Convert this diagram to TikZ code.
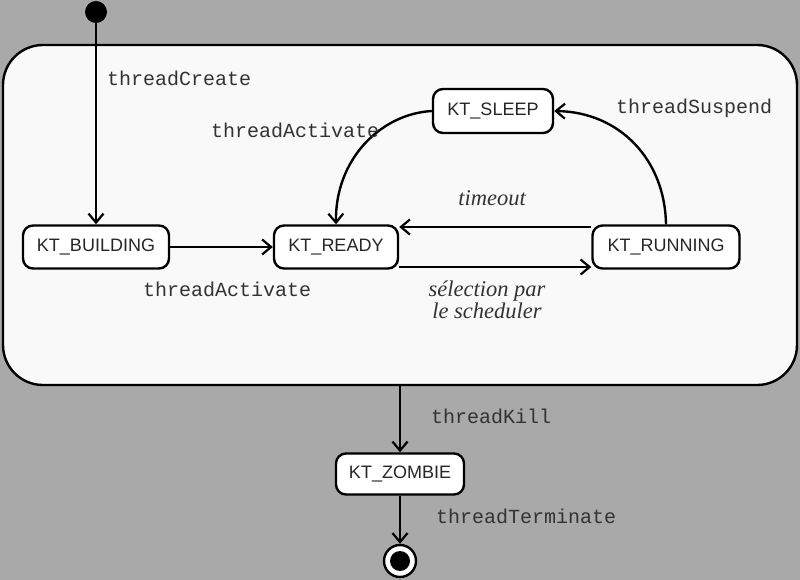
\documentclass[tikz,border=0pt]{standalone}
\usepackage{fontspec}
\setmainfont{Liberation Serif}
\setsansfont{Liberation Sans}
\setmonofont{Liberation Mono}
\usetikzlibrary{arrows.meta}
\definecolor{bggray}{HTML}{A9A9A9}
\definecolor{boxfill}{HTML}{F9F9F9}
\tikzset{
  stbox/.style={draw=black, line width=2.4pt, rounded corners=10pt, fill=white,
    font=\sffamily\fontsize{18}{20}\selectfont, text=black!85, inner sep=0pt},
  trans/.style={draw=black, line width=2.4pt, -{Straight Barb[length=9pt,width=15pt,line width=2.2pt]}},
  evt/.style={font=\ttfamily\fontsize{20}{22}\selectfont, text=black!80, inner sep=0pt, anchor=west},
  grd/.style={font=\itshape\fontsize{22.5}{22}\selectfont, text=black!80, inner sep=0pt, align=center},
}
\begin{document}
\begin{tikzpicture}[x=1pt,y=-1pt]
\useasboundingbox (0,0) rectangle (800,580);
\fill[bggray] (0,0) rectangle (800,580);
% container
\draw[line width=2.4pt, fill=boxfill, rounded corners=40pt] (3,45) rectangle (797,385);
% states
\node[stbox, minimum width=146pt, minimum height=43pt] (build) at (96,247) {KT\_BUILDING};
\node[stbox, minimum width=124pt, minimum height=43pt] (ready) at (336,247) {KT\_READY};
\node[stbox, minimum width=120pt, minimum height=44pt] (sleep) at (493,111) {KT\_SLEEP};
\node[stbox, minimum width=147pt, minimum height=43pt] (run) at (666,247) {KT\_RUNNING};
\node[stbox, minimum width=128pt, minimum height=41pt] (zomb) at (400,474) {KT\_ZOMBIE};
% initial / final
\node[circle, fill=black, minimum size=22pt, inner sep=0pt] (init) at (96,12) {};
\node[circle, draw=black, line width=2.4pt, fill=white, minimum size=32pt, inner sep=0pt] (fin) at (400,561) {};
\node[circle, fill=black, minimum size=20pt, inner sep=0pt] (finin) at (400,561) {};
\coordinate (cbot) at (400,385);
% transitions
\draw[trans] (init.center) -- (build.north);
\draw[trans] (build.east) -- (ready.west);
\draw[trans] (run.north west |- 0,227) -- (ready.north east |- 0,227);
\draw[trans] (ready.south east |- 0,267) -- (run.south west |- 0,267);
\draw[trans] (run.north) .. controls (665,160) and (620,112) .. (sleep.east);
\draw[trans] (sleep.west) .. controls (380,114) and (335,160) .. (ready.north);
\draw[trans] (cbot) -- (zomb.north);
\draw[trans] (zomb.south) -- (fin.north);
% labels
\node[evt] (l1) at (107,78) {threadCreate};
\node[evt] (l2) at (211,130) {threadActivate};
\node[evt] (l3) at (143,289) {threadActivate};
\node[evt] (l4) at (616,108) {threadSuspend};
\node[evt] (l5) at (431,416) {threadKill};
\node[evt] (l6) at (436,516) {threadTerminate};
\node[grd] (g1) at (492,198) {timeout};
\node[grd] (g2) at (487,300) {sélection par\\le scheduler};
\end{tikzpicture}
\end{document}
